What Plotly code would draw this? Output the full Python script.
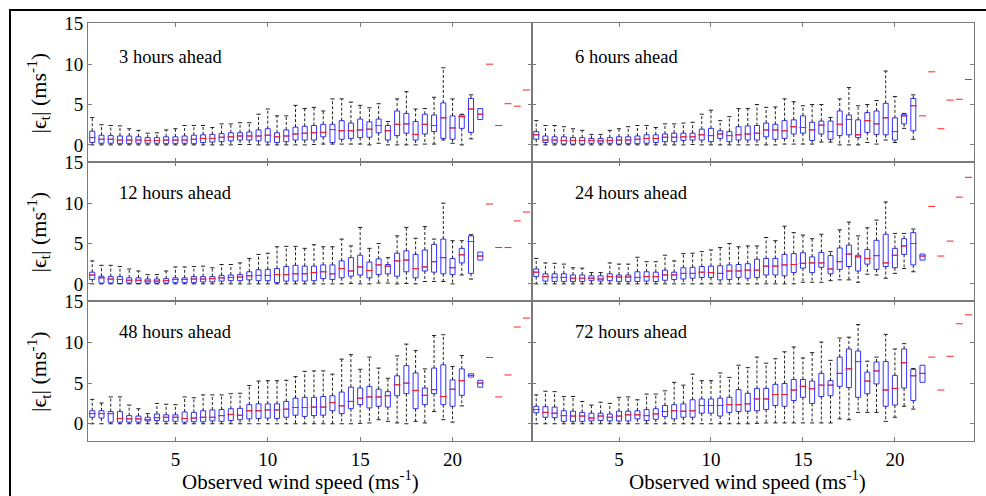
import plotly.graph_objects as go

# ---------------- data ----------------
x_bins = [0.5, 1.0, 1.5, 2.0, 2.5, 3.0, 3.5, 4.0, 4.5, 5.0, 5.5, 6.0, 6.5, 7.0, 7.5, 8.0,
          8.5, 9.0, 9.5, 10.0, 10.5, 11.0, 11.5, 12.0, 12.5, 13.0, 13.5, 14.0, 14.5, 15.0,
          15.5, 16.0, 16.5, 17.0, 17.5, 18.0, 18.5, 19.0, 19.5, 20.0, 20.5, 21.0, 21.5]
x_bins_6h = x_bins[:-1]
single_x = [22.0, 22.5, 23.0, 23.5, 24.0]
single_x_6h = [21.5, 22.0, 22.5, 23.0, 23.5, 24.0]
x_ticks = [5, 10, 15, 20]
y_ticks = [0, 5, 10, 15]
panel_titles = ["3 hours ahead", "6 hours ahead", "12 hours ahead",
                "24 hours ahead", "48 hours ahead", "72 hours ahead"]

# 3 hours ahead
hi_3h = [3.4, 2.5, 2.4, 2.35, 2.0, 1.8, 1.45, 1.5, 1.85, 2.0, 2.4, 2.4, 2.4, 2.15, 2.6, 2.6,
         2.75, 2.75, 3.8, 4.45, 3.6, 3.6, 4.9, 4.5, 4.65, 4.2, 5.7, 5.7, 5.3, 4.9, 4.6, 5.1,
         2.9, 5.7, 6.6, 4.45, 4.5, 5.9, 9.55, 5.7, 3.8, 6.2, 4.5]
q3_3h = [1.7, 1.2, 1.15, 1.1, 1.1, 1.0, 0.9, 0.9, 1.0, 1.0, 1.1, 1.2, 1.25, 1.3, 1.4, 1.5,
         1.5, 1.6, 1.85, 2.0, 1.5, 1.85, 2.2, 2.3, 2.4, 2.55, 2.55, 3.0, 2.7, 3.2, 2.85, 3.2,
         2.4, 4.2, 3.9, 2.9, 3.8, 3.7, 5.2, 3.6, 3.7, 5.75, 4.5]
med_3h = [0.9, 0.7, 0.7, 0.6, 0.6, 0.6, 0.55, 0.55, 0.6, 0.6, 0.6, 0.7, 0.8, 0.8, 0.95, 1.0,
          1.1, 1.1, 1.1, 1.2, 1.0, 1.1, 1.35, 1.45, 1.5, 1.55, 1.9, 1.75, 1.75, 1.85, 1.95, 2.4,
          1.75, 2.55, 2.6, 1.3, 2.55, 2.4, 3.35, 2.1, 3.5, 4.45, 3.8]
q1_3h = [0.3, 0.2, 0.2, 0.15, 0.15, 0.2, 0.2, 0.2, 0.15, 0.15, 0.2, 0.15, 0.3, 0.35, 0.4, 0.5,
         0.6, 0.6, 0.5, 0.35, 0.3, 0.4, 0.6, 0.6, 0.6, 1.0, 0.3, 0.7, 0.8, 0.9, 0.95, 1.5,
         0.6, 1.15, 1.45, 0.6, 1.35, 1.65, 0.8, 0.7, 2.05, 1.55, 3.15]
lo_3h = [0.0, 0.0, 0.0, 0.0, 0.0, 0.0, 0.0, 0.0, 0.0, 0.0, 0.0, 0.0, 0.0, 0.0, 0.0, 0.0,
         0.05, 0.05, 0.0, 0.0, 0.0, 0.0, 0.0, 0.0, 0.05, 0.1, 0.1, 0.1, 0.1, 0.1, 0.0, 0.2,
         0.0, 0.0, 0.0, 0.0, 0.1, 0.1, 0.6, 0.2, 0.0, 0.75, 3.15]
single_3h = [10.0, 2.4, 5.1, 4.8, 6.8]

# 6 hours ahead
hi_6h = [3.0, 2.4, 2.4, 2.25, 2.0, 1.8, 1.3, 1.3, 1.8, 2.0, 2.25, 2.4, 2.4, 2.15, 2.6, 2.6,
         2.7, 2.8, 3.8, 4.3, 3.0, 3.5, 4.5, 4.5, 5.0, 4.65, 4.7, 5.7, 5.35, 4.85, 5.0, 5.0,
         3.4, 5.7, 7.1, 4.85, 5.0, 5.5, 9.15, 6.0, 3.9, 6.2]
q3_6h = [1.65, 1.1, 1.0, 1.0, 0.9, 0.9, 0.8, 0.8, 0.9, 1.0, 1.0, 1.1, 1.25, 1.25, 1.35, 1.45,
         1.45, 1.45, 1.95, 2.05, 1.75, 1.65, 2.25, 2.35, 2.4, 2.7, 2.55, 3.0, 3.1, 3.6, 2.8, 2.95,
         2.95, 4.2, 3.7, 3.1, 4.0, 4.2, 5.15, 3.35, 3.8, 5.75]
med_6h = [1.25, 0.6, 0.6, 0.55, 0.55, 0.55, 0.55, 0.5, 0.55, 0.6, 0.6, 0.7, 0.8, 0.8, 0.95, 0.95,
          1.0, 1.0, 1.25, 1.15, 1.35, 1.15, 1.25, 1.35, 1.45, 1.85, 1.85, 1.75, 2.25, 2.15, 1.85, 2.45,
          1.65, 2.55, 3.15, 1.25, 3.0, 2.6, 3.35, 1.65, 3.6, 4.85]
q1_6h = [0.7, 0.3, 0.2, 0.1, 0.1, 0.1, 0.2, 0.2, 0.2, 0.1, 0.15, 0.15, 0.2, 0.3, 0.4, 0.4,
         0.55, 0.6, 0.6, 0.4, 0.8, 0.4, 0.6, 0.6, 0.6, 1.0, 0.7, 0.8, 1.35, 1.45, 0.55, 1.35,
         0.7, 1.15, 1.25, 0.9, 1.55, 1.3, 1.25, 0.6, 2.6, 1.75]
lo_6h = [0.0, 0.0, 0.0, 0.0, 0.0, 0.0, 0.0, 0.0, 0.0, 0.0, 0.0, 0.0, 0.0, 0.0, 0.0, 0.0,
         0.0, 0.05, 0.0, 0.0, 0.0, 0.0, 0.0, 0.0, 0.0, 0.0, 0.0, 0.1, 0.1, 0.1, 0.1, 0.35,
         0.35, 0.0, 0.0, 0.0, 0.3, 0.1, 0.6, 0.3, 2.05, 0.7]
single_6h = [3.6, 9.05, 2.0, 5.55, 5.65, 8.1]

# 12 hours ahead
hi_12h = [2.85, 2.3, 2.3, 2.15, 1.85, 1.6, 1.15, 1.15, 1.6, 2.1, 2.1, 2.15, 2.2, 2.0, 2.4, 2.4,
          2.6, 3.15, 3.65, 3.8, 4.6, 4.65, 4.65, 4.4, 4.85, 4.6, 4.6, 5.55, 4.7, 7.0, 4.4, 5.0,
          3.25, 5.95, 7.0, 5.65, 7.1, 5.55, 10.0, 5.35, 5.35, 6.1, 3.95]
q3_12h = [1.45, 0.95, 0.9, 0.9, 0.75, 0.75, 0.6, 0.6, 0.65, 0.75, 0.75, 0.9, 0.9, 0.9, 1.05, 1.1,
          1.15, 1.5, 1.75, 1.8, 1.9, 2.15, 2.3, 2.2, 2.2, 2.35, 2.35, 2.85, 3.25, 3.55, 2.7, 3.1,
          2.4, 3.8, 4.1, 3.65, 4.2, 4.9, 5.55, 3.15, 4.4, 5.95, 3.95]
med_12h = [1.1, 0.75, 0.6, 0.55, 0.45, 0.45, 0.35, 0.35, 0.4, 0.55, 0.55, 0.6, 0.6, 0.65, 0.75, 0.8,
           0.85, 1.0, 1.05, 1.05, 1.15, 1.15, 1.25, 1.25, 1.4, 1.5, 1.25, 1.9, 1.6, 2.1, 1.65, 2.35,
           2.2, 2.85, 2.95, 1.9, 2.1, 2.75, 3.25, 2.0, 3.6, 5.25, 3.45]
q1_12h = [0.55, 0.1, 0.1, 0.05, 0.1, 0.05, 0.1, 0.1, 0.1, 0.15, 0.15, 0.15, 0.25, 0.25, 0.35, 0.4,
          0.4, 0.5, 0.4, 0.4, 0.15, 0.35, 0.35, 0.35, 0.4, 0.65, 0.55, 0.75, 0.95, 1.1, 0.75, 1.15,
          1.25, 0.95, 1.5, 0.75, 1.6, 1.45, 1.25, 1.15, 2.6, 1.3, 2.95]
lo_12h = [0.0, 0.0, 0.0, 0.0, 0.0, 0.0, 0.0, 0.0, 0.0, 0.0, 0.0, 0.0, 0.0, 0.0, 0.0, 0.0,
          0.0, 0.0, 0.0, 0.0, 0.0, 0.0, 0.0, 0.0, 0.0, 0.0, 0.0, 0.0, 0.05, 0.0, 0.0, 0.1,
          0.1, 0.0, 0.05, 0.0, 0.3, 0.3, 0.3, 0.0, 1.1, 0.6, 2.95]
single_12h = [9.9, 4.5, 4.5, 7.8, 8.9]

# 24 hours ahead
hi_24h = [3.15, 2.6, 2.55, 2.45, 2.0, 1.95, 1.4, 1.4, 2.6, 2.45, 2.45, 3.3, 2.75, 2.75, 3.55, 2.85,
          3.75, 3.8, 4.0, 4.2, 4.5, 5.0, 4.6, 4.7, 4.7, 5.75, 5.35, 7.15, 6.35, 6.05, 5.6, 6.15,
          4.0, 6.7, 7.65, 5.95, 6.95, 7.9, 10.15, 6.25, 6.25, 6.8, 3.7]
q3_24h = [1.85, 1.25, 1.25, 1.25, 1.1, 1.1, 1.0, 1.0, 1.25, 1.1, 1.1, 1.5, 1.5, 1.45, 1.7, 1.45,
          2.0, 2.05, 2.15, 2.2, 2.25, 2.35, 2.4, 2.5, 3.05, 3.15, 3.15, 3.65, 3.75, 3.85, 3.35, 3.9,
          3.5, 4.45, 4.8, 3.55, 4.25, 5.4, 6.15, 4.4, 5.6, 6.35, 3.7]
med_24h = [1.45, 0.9, 0.8, 0.8, 0.7, 0.7, 0.7, 0.6, 0.9, 0.85, 0.85, 0.8, 0.9, 0.9, 1.1, 1.1,
           1.3, 1.3, 1.45, 1.4, 1.3, 1.6, 1.6, 1.7, 1.7, 2.2, 2.2, 2.35, 2.4, 2.55, 2.6, 2.6,
           1.85, 2.75, 3.7, 3.35, 3.15, 3.5, 2.6, 3.55, 4.7, 5.0, 3.45]
q1_24h = [0.9, 0.35, 0.3, 0.3, 0.3, 0.3, 0.4, 0.35, 0.4, 0.3, 0.3, 0.3, 0.35, 0.3, 0.45, 0.55,
          0.6, 0.7, 0.8, 0.8, 0.5, 0.55, 0.8, 0.7, 0.8, 1.1, 1.1, 1.0, 1.4, 1.95, 1.4, 2.05,
          1.25, 1.8, 2.15, 1.6, 2.45, 1.8, 2.15, 2.0, 3.65, 2.35, 2.95]
lo_24h = [0.0, 0.0, 0.0, 0.0, 0.0, 0.0, 0.0, 0.0, 0.0, 0.0, 0.0, 0.0, 0.0, 0.0, 0.0, 0.0,
          0.0, 0.0, 0.0, 0.0, 0.0, 0.0, 0.0, 0.0, 0.0, 0.0, 0.0, 0.0, 0.0, 0.2, 0.2, 0.2,
          0.4, 0.5, 0.5, 0.2, 1.2, 1.1, 0.7, 1.3, 1.9, 1.5, 2.95]
single_24h = [9.6, 3.45, 5.3, 10.75, 13.2]

# 48 hours ahead
hi_48h = [3.0, 2.55, 3.3, 3.3, 2.3, 1.85, 1.25, 2.5, 2.4, 2.35, 3.3, 3.2, 3.55, 3.55, 3.55, 3.7,
          3.75, 4.7, 5.25, 5.3, 5.3, 5.35, 5.8, 6.45, 6.5, 6.5, 6.1, 7.95, 8.5, 6.7, 8.2, 6.85,
          5.6, 8.35, 9.8, 9.0, 6.75, 10.85, 10.95, 7.05, 8.4, 6.15, 5.35]
q3_48h = [1.6, 1.6, 1.5, 1.5, 1.0, 0.95, 0.8, 1.2, 1.1, 1.1, 1.45, 1.4, 1.6, 1.7, 1.75, 1.85,
          1.9, 2.35, 2.45, 2.45, 2.45, 2.75, 3.15, 3.25, 3.25, 3.35, 3.45, 3.9, 4.5, 4.4, 4.6, 4.25,
          3.95, 5.9, 7.15, 6.25, 4.4, 6.85, 7.25, 5.4, 6.75, 6.15, 5.35]
med_48h = [1.25, 1.25, 1.25, 0.65, 0.6, 0.6, 0.5, 0.75, 0.8, 0.8, 0.65, 0.7, 0.8, 0.8, 1.0, 1.15,
           1.05, 1.6, 1.6, 1.7, 1.7, 1.8, 2.0, 2.0, 2.05, 2.05, 2.6, 2.2, 2.75, 3.15, 3.3, 3.3,
           3.45, 4.8, 5.0, 4.1, 3.5, 4.2, 3.35, 4.25, 5.3, 5.95, 5.0]
q1_48h = [0.8, 0.7, 0.2, 0.2, 0.2, 0.2, 0.35, 0.4, 0.3, 0.3, 0.2, 0.25, 0.25, 0.35, 0.3, 0.4,
          0.5, 0.6, 0.65, 0.7, 0.65, 0.8, 1.05, 0.9, 1.0, 1.05, 1.6, 1.25, 1.85, 2.35, 1.95, 2.15,
          2.05, 3.45, 3.7, 1.85, 2.35, 3.7, 2.35, 2.15, 3.5, 5.75, 4.5]
lo_48h = [0.0, 0.0, 0.0, 0.0, 0.0, 0.0, 0.0, 0.0, 0.0, 0.0, 0.0, 0.0, 0.0, 0.0, 0.0, 0.0,
          0.0, 0.0, 0.0, 0.0, 0.0, 0.0, 0.0, 0.0, 0.0, 0.0, 0.0, 0.0, 0.0, 0.05, 0.1, 0.5,
          0.3, 0.1, 0.0, 0.3, 0.1, 1.5, 0.5, 0.2, 2.2, 5.75, 4.5]
single_48h = [8.15, 3.3, 6.0, 11.9, 13.0]

# 72 hours ahead
hi_72h = [3.55, 4.0, 3.95, 3.35, 3.35, 2.75, 2.3, 2.65, 2.5, 3.25, 3.3, 2.95, 3.65, 3.65, 4.05, 5.1,
          4.75, 6.1, 5.3, 5.3, 6.25, 5.7, 7.2, 6.9, 8.2, 7.45, 8.0, 8.85, 9.45, 8.1, 8.75, 10.05,
          7.8, 10.55, 10.65, 12.2, 7.7, 8.2, 11.0, 9.2, 9.85, 6.8, 7.2]
q3_72h = [2.15, 2.1, 2.05, 1.6, 1.55, 1.4, 1.3, 1.3, 1.2, 1.55, 1.55, 1.6, 1.75, 1.85, 2.25, 2.35,
          2.45, 2.95, 3.05, 3.05, 3.15, 3.25, 4.2, 3.75, 4.35, 4.35, 4.85, 4.95, 5.45, 5.45, 5.25, 6.2,
          5.3, 8.2, 9.2, 8.95, 6.35, 7.6, 7.65, 5.95, 9.2, 6.7, 7.2]
med_72h = [1.75, 1.4, 1.3, 1.0, 0.95, 0.95, 0.7, 0.95, 0.8, 0.95, 1.1, 1.1, 1.0, 1.2, 1.5, 1.6,
           1.55, 1.6, 2.25, 2.25, 2.25, 2.35, 2.35, 2.45, 3.05, 3.05, 3.6, 3.6, 4.15, 4.6, 4.3, 4.75,
           4.75, 6.2, 6.75, 7.65, 5.25, 6.5, 4.15, 4.35, 7.5, 5.9, 6.2]
q1_72h = [1.35, 0.8, 0.75, 0.3, 0.3, 0.3, 0.35, 0.4, 0.35, 0.35, 0.35, 0.6, 0.4, 0.55, 0.9, 0.6,
          0.8, 0.8, 1.3, 1.3, 0.95, 1.4, 1.5, 1.55, 1.6, 1.75, 2.25, 2.15, 2.85, 3.25, 2.5, 3.35,
          3.45, 4.6, 4.45, 3.25, 3.7, 4.9, 2.15, 2.3, 4.4, 2.85, 5.1]
lo_72h = [0.0, 0.0, 0.0, 0.0, 0.0, 0.0, 0.0, 0.0, 0.0, 0.0, 0.0, 0.0, 0.0, 0.0, 0.0, 0.0,
          0.0, 0.0, 0.0, 0.0, 0.0, 0.0, 0.0, 0.0, 0.05, 0.1, 0.1, 0.1, 0.1, 0.1, 0.1, 0.1,
          0.1, 0.6, 0.5, 1.4, 1.4, 1.4, 0.3, 0.8, 2.15, 1.8, 5.1]
single_72h = [8.2, 4.15, 8.3, 12.3, 13.4]

panels = [
    (panel_titles[0], x_bins, hi_3h, q3_3h, med_3h, q1_3h, lo_3h, single_x, single_3h),
    (panel_titles[1], x_bins_6h, hi_6h, q3_6h, med_6h, q1_6h, lo_6h, single_x_6h, single_6h),
    (panel_titles[2], x_bins, hi_12h, q3_12h, med_12h, q1_12h, lo_12h, single_x, single_12h),
    (panel_titles[3], x_bins, hi_24h, q3_24h, med_24h, q1_24h, lo_24h, single_x, single_24h),
    (panel_titles[4], x_bins, hi_48h, q3_48h, med_48h, q1_48h, lo_48h, single_x, single_48h),
    (panel_titles[5], x_bins, hi_72h, q3_72h, med_72h, q1_72h, lo_72h, single_x, single_72h),
]

# ---------------- layout geometry (pixels) ----------------
W, H = 986, 496
col_px = [(88, 532), (532, 974)]
row_px = [(23, 162), (162, 301), (301, 441)]
x_range = [0.27, 24.3]
y_range = [-2.12, 15.1]
FONT = "Liberation Serif"
AXC = "#7a7a7a"

fig = go.Figure()
layout = dict(width=W, height=H, margin=dict(l=0, r=0, t=0, b=0),
              paper_bgcolor="white", plot_bgcolor="white", showlegend=False,
              font=dict(family=FONT, color="black"))
annotations = []

for i, (title, xs, hi, q3, med, q1, lo, sx, sy) in enumerate(panels):
    r, c = divmod(i, 2)
    sfx = "" if i == 0 else str(i + 1)
    xref, yref = "x" + sfx, "y" + sfx

    # whiskers
    wx, wy, cx, cy = [], [], [], []
    for x, h_, a, b, l_ in zip(xs, hi, q3, q1, lo):
        if h_ > a:
            wx += [x, x, None]; wy += [a, h_, None]
            cx.append(x); cy.append(h_)
        if l_ < b:
            wx += [x, x, None]; wy += [b, l_, None]
            cx.append(x); cy.append(l_)
    fig.add_trace(go.Scatter(x=wx, y=wy, mode="lines", xaxis=xref, yaxis=yref,
                             line=dict(color="#222222", width=1, dash="3px,2px"),
                             hoverinfo="skip"))
    fig.add_trace(go.Scatter(x=cx, y=cy, mode="markers", xaxis=xref, yaxis=yref,
                             marker=dict(symbol="line-ew", size=3,
                                         line=dict(color="#222222", width=1)),
                             hoverinfo="skip"))
    # boxes
    fig.add_trace(go.Box(x=xs, q1=q1, median=med, q3=q3, lowerfence=q1, upperfence=q3,
                         xaxis=xref, yaxis=yref, width=0.27, whiskerwidth=0,
                         boxpoints=False, fillcolor="rgba(0,0,0,0)",
                         line=dict(color="#3333ff", width=1), hoverinfo="skip"))
    # medians
    fig.add_trace(go.Scatter(x=xs, y=med, mode="markers", xaxis=xref, yaxis=yref,
                             marker=dict(symbol="line-ew", size=5,
                                         line=dict(color="#ff2020", width=1)),
                             hoverinfo="skip"))
    # single-observation bins
    fig.add_trace(go.Scatter(x=sx, y=sy, mode="markers", xaxis=xref, yaxis=yref,
                             marker=dict(symbol="line-ew", size=5,
                                         line=dict(color="#ff2020", width=1)),
                             hoverinfo="skip"))

    x0, x1 = col_px[c]
    y0, y1 = row_px[r]
    common = dict(showline=True, linecolor=AXC, linewidth=1, mirror="allticks",
                  ticks="inside", ticklen=4, tickcolor=AXC, showgrid=False,
                  zeroline=False, tickfont=dict(family=FONT, size=19, color="black"),
                  automargin=False, fixedrange=True)
    layout["xaxis" + sfx] = dict(common, domain=[x0 / W, x1 / W], range=x_range,
                                 tickvals=x_ticks, showticklabels=(r == 2), anchor=yref,
                                 ticklabelstandoff=1)
    layout["yaxis" + sfx] = dict(common, domain=[1 - y1 / H, 1 - y0 / H], range=y_range,
                                 tickvals=y_ticks, showticklabels=(c == 0), anchor=xref)

    # panel title
    tx = 117 if c == 0 else 573
    ty = [57, 193, 332][r]
    annotations.append(dict(text=title, xref="paper", yref="paper", x=tx / W, y=1 - ty / H,
                            xanchor="left", yanchor="middle", showarrow=False,
                            font=dict(family=FONT, size=18.5, color="black")))
    if c == 0:
        annotations.append(dict(text="|ϵ<sub>t</sub>| (ms<sup>-1</sup>)", xref="paper",
                                yref="paper", x=38 / W, y=1 - ((y0 + y1) / 2 + 1) / H,
                                textangle=-90, xanchor="center", yanchor="middle",
                                showarrow=False,
                                font=dict(family=FONT, size=22, color="black")))

for cxp in (300, 747):
    annotations.append(dict(text="Observed wind speed (ms<sup>-1</sup>)", xref="paper",
                            yref="paper", x=cxp / W, y=1 - 480 / H, xanchor="center",
                            yanchor="middle", showarrow=False,
                            font=dict(family=FONT, size=21, color="black")))

layout["annotations"] = annotations
layout["shapes"] = [dict(type="rect", xref="paper", yref="paper", x0=10 / W, x1=1.02,
                         y0=-0.02, y1=1 - 10 / H, line=dict(color="black", width=2),
                         fillcolor="rgba(0,0,0,0)")]
fig.update_layout(**layout)
fig.write_html("out.html")
